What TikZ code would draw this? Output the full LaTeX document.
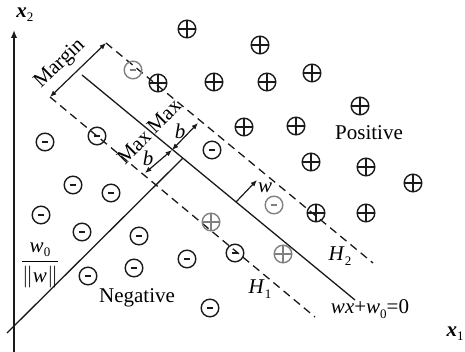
\documentclass[tikz,border=0pt]{standalone}
\usepackage{fontspec}
\setmainfont{Liberation Serif}
\usetikzlibrary{arrows.meta}

\definecolor{svmink}{HTML}{1A1A1A}
\definecolor{svmgray}{HTML}{808080}
\newcommand{\lowsub}[1]{\raisebox{-.45ex}{\fontsize{6.5}{7}\selectfont #1}}

\begin{document}
\begin{tikzpicture}[
  x=.5pt,y=-.5pt,
  font=\fontsize{10.5}{12}\selectfont,
  axis/.style={draw=svmink,line width=.75pt,-{Latex[length=4pt,width=3.2pt]}},
  hyper/.style={draw=svmink,line width=.65pt},
  bound/.style={draw=svmink,line width=.65pt,dash pattern=on 4pt off 2.6pt},
  dim/.style={draw=svmink,line width=.6pt,
              {Latex[length=3.2pt,width=2.6pt]}-{Latex[length=3.2pt,width=2.6pt]}},
  sample/.style={circle,draw=svmink,minimum size=8.8pt,inner sep=0pt,line width=.7pt},
  possample/.style={sample,path picture={\draw[line width=.55pt]
      (path picture bounding box.west)--(path picture bounding box.east)
      (path picture bounding box.north)--(path picture bounding box.south);}},
  negsample/.style={sample,path picture={\draw[line width=.9pt]
      ([xshift=-1.7pt]path picture bounding box.center)--
      ([xshift=1.7pt]path picture bounding box.center);}},
  faded/.style={draw=svmgray,color=svmgray}
]
  \path[use as bounding box] (0,0) rectangle (465,352);

  % axes
  \coordinate (yFoot) at (14,356);
  \coordinate (yTip) at (14,30);
  \coordinate (xFoot) at (14,356);
  \coordinate (xTip) at (467,356);
  \draw[axis] (yFoot) -- (yTip);
  \draw[axis] (xFoot) -- (xTip);
  \node (x2Label) at (25,15) {\textbf{\textit{x}}\lowsub{2}};
  \node (x1Label) at (455,334) {\textbf{\textit{x}}\lowsub{1}};

  % separating hyperplane and the two margin planes
  \coordinate (sepA) at (82,75);   \coordinate (sepB) at (355,300);
  \coordinate (hiA) at (106,43);   \coordinate (hiB) at (373,263);
  \coordinate (loA) at (50,97);    \coordinate (loB) at (315,317);
  \draw[hyper] (sepA) -- (sepB);
  \draw[bound] (hiA) -- (hiB);
  \draw[bound] (loA) -- (loB);

  % offset from the origin
  \coordinate (origin) at (7,333);
  \coordinate (foot) at (183,158);
  \draw[hyper] (origin) -- (foot);

  % margin and half-margin dimensions
  \draw[dim] (loA) -- (hiA);
  \coordinate (bLo) at (145,173);
  \coordinate (bMid) at (172,150);
  \coordinate (bHi) at (198,123);
  \draw[dim] (bLo) -- (bMid);
  \draw[dim] (bMid) -- (bHi);

  % normal vector
  \coordinate (wBase) at (236,202);
  \coordinate (wHead) at (257,180);
  \draw[draw=svmink,line width=.6pt,-{Latex[length=3.2pt,width=2.6pt]}] (wBase) -- (wHead);

  % samples
  \foreach \px/\py [count=\i] in {187/29,260/45,312/73,214/82,267/82,158/83,
      360/106,244/127,296/126,311/162,366/167,413/183,316/213,366/213}{
    \node[possample] (pos\i) at (\px,\py) {};
  }
  \foreach \px/\py [count=\i] in {211/222,283/254}{
    \node[possample,faded] (posSV\i) at (\px,\py) {};
  }
  \foreach \px/\py [count=\i] in {45/142,97/136,212/150,73/185,111/193,41/215,
      82/232,139/236,88/276,134/268,187/259,235/253,210/308}{
    \node[negsample] (neg\i) at (\px,\py) {};
  }
  \foreach \px/\py [count=\i] in {133/70,274/205}{
    \node[negsample,faded] (negSV\i) at (\px,\py) {};
  }

  % labels
  \node (posLabel) at (369,133) {Positive};
  \node (negLabel) at (137,298) {Negative};
  \node[rotate=44] (marginLabel) at (60,64) {Margin};
  \node[rotate=45] (maxLo) at (134,147) {Max};
  \node[rotate=45] (maxHi) at (164,116) {Max};
  \node (bLabelLo) at (148,158) {\textit{b}};
  \node (bLabelHi) at (180,131) {\textit{b}};
  \node (wLabel) at (265,188) {\textit{w}};
  \node (h1Label) at (260,289) {\textit{H}\lowsub{1}};
  \node (h2Label) at (340,256) {\textit{H}\lowsub{2}};
  \node (eqLabel) at (370,309) {\textit{wx}+\textit{w}\lowsub{0}=0};
  \node (offLabel) at (40,265)
    {$\displaystyle\frac{\textit{w}\lowsub{0}}{\|\textit{w}\|}$};
\end{tikzpicture}
\end{document}
